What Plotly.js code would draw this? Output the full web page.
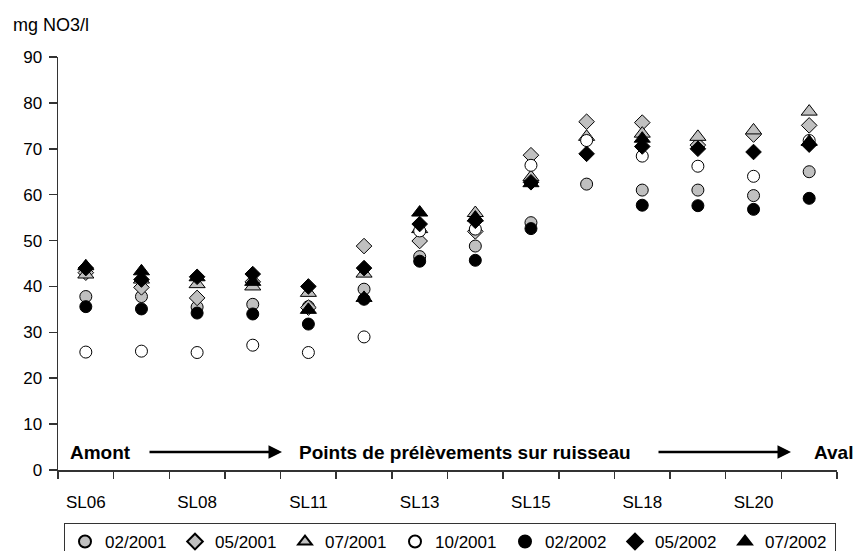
<!DOCTYPE html>
<html>
<head>
<meta charset="utf-8">
<script src="https://cdn.plot.ly/plotly-3.0.1.min.js"></script>
<style>html,body{margin:0;padding:0;background:#fff}#chart{width:853px;height:551px}</style>
</head>
<body>
<div id="chart"></div>
<script>
// Sampling points along the stream (upstream -> downstream)
var sites = ["SL06","SL07","SL08","SL10","SL11","SL12","SL13","SL14","SL15","SL17","SL18","SL19","SL20","SL21"];
var labelledSites = ["SL06","SL08","SL11","SL13","SL15","SL18","SL20"];

// Nitrate concentrations (mg NO3/l) per campaign
var v_02_2001 = [37.8, 37.8, 35.5, 36.1, 35.6, 39.4, 46.5, 48.8, 53.9, 62.3, 61.0, 61.0, 59.8, 65.0];
var v_05_2001 = [43.0, 39.8, 37.5, 41.0, 35.4, 48.8, 49.9, 52.0, 68.6, 75.9, 75.7, 70.8, 73.1, 75.1];
var v_07_2001 = [42.6, 41.5, 40.5, 40.0, 38.6, 42.8, 52.5, 56.0, 63.8, 72.6, 73.3, 72.6, 74.0, 78.1];
var v_10_2001 = [25.7, 25.9, 25.6, 27.2, 25.6, 29.0, 52.1, 52.5, 66.4, 71.8, 68.4, 66.2, 64.0, 71.8];
var v_02_2002 = [35.6, 35.1, 34.2, 34.0, 31.8, 37.2, 45.5, 45.7, 52.6, null, 57.7, 57.6, 56.8, 59.2];
var v_05_2002 = [44.0, 41.5, 42.1, 42.7, 40.0, 44.0, 53.6, 54.3, 62.7, 68.9, 70.5, 70.0, 69.3, 70.9];
var v_07_2002 = [44.4, 43.3, 42.0, 41.0, 34.9, 37.5, 56.1, 55.0, 62.5, null, 72.2, null, null, 71.5];

var campaigns = ["02/2001","05/2001","07/2001","10/2001","02/2002","05/2002","07/2002"];
var seriesValues = [v_02_2001, v_05_2001, v_07_2001, v_10_2001, v_02_2002, v_05_2002, v_07_2002];

var styles = [
  {symbol:"circle", color:"#c0c0c0", size:12},
  {symbol:"diamond", color:"#c0c0c0", size:12},
  {symbol:"triangle-up", color:"#c0c0c0", size:14},
  {symbol:"circle", color:"#ffffff", size:12},
  {symbol:"circle", color:"#000000", size:12},
  {symbol:"diamond", color:"#000000", size:12},
  {symbol:"triangle-up", color:"#000000", size:14}
];

var xIdx = sites.map(function(s, i){ return i; });
var traces = campaigns.map(function(name, k){
  return {
    type: "scatter", mode: "markers", name: name,
    x: xIdx, y: seriesValues[k],
    marker: {symbol: styles[k].symbol, color: styles[k].color, size: styles[k].size,
             line: {color: "#000", width: 1}},
    hoverinfo: "x+y+name"
  };
});

var font = "Liberation Sans, Arial, Helvetica, sans-serif";
var L = 58, R = 16, T = 57, B = 81, W = 853, H = 551;
var pw = W - L - R, ph = H - T - B;
function px(x){ return (x - L) / pw; }
function py(y){ return (H - B - y) / ph; }

var layout = {
  width: W, height: H,
  margin: {l: L, r: R, t: T, b: B, pad: 0, autoexpand: false},
  paper_bgcolor: "#fff", plot_bgcolor: "#fff",
  font: {family: font, size: 17, color: "#000"},
  showlegend: true,
  xaxis: {
    range: [-0.5, sites.length - 0.5],
    tickmode: "array",
    tickvals: labelledSites.map(function(s){ return sites.indexOf(s); }),
    ticktext: labelledSites,
    ticks: "outside", ticklen: 7, tickcolor: "rgba(0,0,0,0)",
    ticklabelstandoff: 9,
    minor: {tickmode: "linear", tick0: -0.5, dtick: 1, ticks: "outside", ticklen: 7, tickwidth: 1.5, tickcolor: "#333", showgrid: false},
    showline: true, linecolor: "#333", linewidth: 1.5,
    showgrid: false, zeroline: false, fixedrange: true, automargin: false,
    tickfont: {family: font, size: 17, color: "#000"}
  },
  yaxis: {
    range: [0, 90], dtick: 10, tick0: 0,
    ticks: "outside", ticklen: 8, tickwidth: 1.5, tickcolor: "#333",
    ticklabelstandoff: 3,
    showline: true, linecolor: "#333", linewidth: 1.5,
    showgrid: false, zeroline: false, fixedrange: true, automargin: false,
    tickfont: {family: font, size: 17, color: "#000"}
  },
  legend: {
    orientation: "h", x: px(64), xanchor: "left", y: -(523 - (H - B)) / ph, yanchor: "top",
    bordercolor: "#333", borderwidth: 1, bgcolor: "#fff",
    font: {family: font, size: 17, color: "#000"},
    entrywidth: 65, entrywidthmode: "pixels",
    itemsizing: "constant", traceorder: "normal"
  },
  annotations: [
    {xref: "paper", yref: "paper", x: px(11), y: py(25), xanchor: "left", yanchor: "middle",
     text: "mg NO3/l", showarrow: false, font: {family: font, size: 18, color: "#000"}},
    {xref: "paper", yref: "paper", x: px(68), y: py(452), xanchor: "left", yanchor: "middle",
     text: "<b>Amont</b>", showarrow: false, font: {family: font, size: 19, color: "#000"}},
    {xref: "paper", yref: "paper", x: px(297), y: py(452), xanchor: "left", yanchor: "middle",
     text: "<b>Points de prélèvements sur ruisseau</b>", showarrow: false, font: {family: font, size: 19, color: "#000"}},
    {xref: "paper", yref: "paper", x: px(812), y: py(452), xanchor: "left", yanchor: "middle",
     text: "<b>Aval</b>", showarrow: false, font: {family: font, size: 19, color: "#000"}},
    {xref: "paper", yref: "paper", x: px(282), y: py(452), ax: -134, ay: 0, text: "",
     showarrow: true, arrowhead: 2, arrowsize: 1, arrowwidth: 2.7, arrowcolor: "#000", standoff: 0},
    {xref: "paper", yref: "paper", x: px(791), y: py(452), ax: -134, ay: 0, text: "",
     showarrow: true, arrowhead: 2, arrowsize: 1, arrowwidth: 2.7, arrowcolor: "#000", standoff: 0}
  ]
};

Plotly.newPlot("chart", traces, layout, {displayModeBar: false, staticPlot: true});
</script>
</body>
</html>
